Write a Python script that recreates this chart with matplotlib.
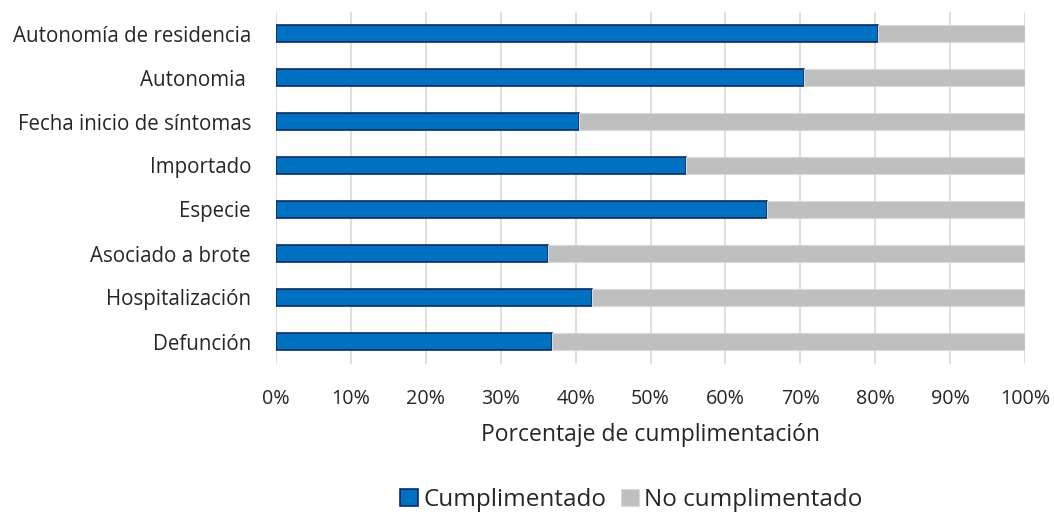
import matplotlib
matplotlib.use("Agg")
import matplotlib.pyplot as plt
import numpy as np

categories = ["Autonomía de residencia", "Autonomia ", "Fecha inicio de síntomas",
              "Importado", "Especie", "Asociado a brote", "Hospitalización", "Defunción"]
cumplimentado = [80.4, 70.5, 40.5, 54.7, 65.6, 36.3, 42.2, 36.9]
no_cumplimentado = [100 - v for v in cumplimentado]
xticks = [0, 10, 20, 30, 40, 50, 60, 70, 80, 90, 100]

plt.rcParams['font.family'] = ['Open Sans', 'DejaVu Sans']

fig = plt.figure(figsize=(10.54, 5.15), dpi=100)
ax = fig.add_axes([276/1054, 1 - 363.5/515, (1025-276)/1054, (363.5-11.5)/515])

y = np.arange(len(categories))
h = 0.39
ax.barh(y, cumplimentado, height=h, color='#0070C0', edgecolor='#0D2A66', linewidth=1.2,
        label='Cumplimentado', zorder=3)
ax.barh(y, no_cumplimentado, left=cumplimentado, height=h, color='#BFBFBF',
        edgecolor='#D9D9D9', linewidth=0.8, label='No cumplimentado', zorder=3)

ax.set_xlim(0, 100)
ax.set_ylim(len(categories) - 0.5, -0.5)
ax.set_yticks(y)
ax.set_yticklabels(categories, fontsize=14.8, color='#262626')
ax.set_xticks(xticks)
ax.set_xticklabels([f"{t}%" for t in xticks], fontsize=14.2, color='#262626')
ax.tick_params(axis='both', length=0)
ax.tick_params(axis='y', pad=18)
ax.tick_params(axis='x', pad=18)
ax.grid(axis='x', color='#D9D9D9', linewidth=1.2, zorder=0)
for s in ax.spines.values():
    s.set_visible(False)
ax.set_xlabel("Porcentaje de cumplimentación", fontsize=16.5, color='#262626', va='baseline')
ax.xaxis.set_label_coords(0.5, (363.5 - 441) / 352)

leg = fig.legend(loc='center', bbox_to_anchor=(631/1054, 1 - 500/515), ncol=2, frameon=False,
                 fontsize=17.5, handlelength=0.75, handleheight=0.75, handletextpad=0.2,
                 columnspacing=0.6, borderaxespad=0, borderpad=0)
for t in leg.get_texts():
    t.set_color('#262626')

fig.savefig("out.png", dpi=100)
